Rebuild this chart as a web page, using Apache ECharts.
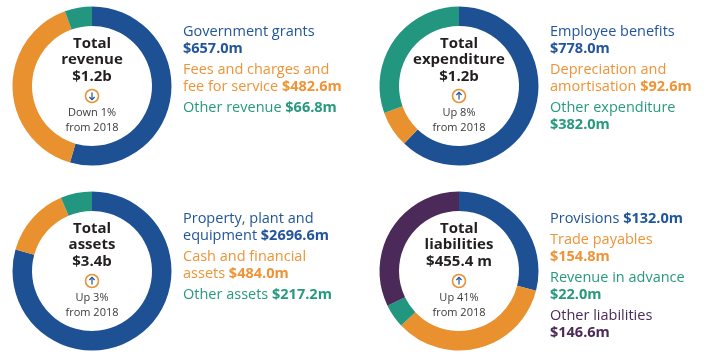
<!DOCTYPE html>
<html><head><meta charset="utf-8">
<script src="https://cdn.jsdelivr.net/npm/echarts@6/dist/echarts.min.js"></script>
<style>html,body{margin:0;padding:0;background:#fff}#c{width:719px;height:358px}</style>
</head><body><div id="c"></div>
<script>
// ---- data ----
const revenueNames = ['Government grants', 'Fees and charges and\nfee for service', 'Other revenue'];
const revenueValues = [657.0, 482.6, 66.8];
const revenueBreak = [true, false, false];

const expenditureNames = ['Employee benefits', 'Depreciation and\namortisation', 'Other expenditure'];
const expenditureValues = [778.0, 92.6, 382.0];
const expenditureBreak = [true, false, true];

const assetsNames = ['Property, plant and\nequipment', 'Cash and financial\nassets', 'Other assets'];
const assetsValues = [2696.6, 484.0, 217.2];
const assetsBreak = [false, false, false];

const liabilitiesNames = ['Provisions', 'Trade payables', 'Revenue in advance', 'Other liabilities'];
const liabilitiesValues = [132.0, 154.8, 22.0, 146.6];
const liabilitiesBreak = [false, true, true, true];

const revenueCenter = ['Total', 'revenue', '$1.2b'];
const expenditureCenter = ['Total', 'expenditure', '$1.2b'];
const assetsCenter = ['Total', 'assets', '$3.4b'];
const liabilitiesCenter = ['Total', 'liabilities', '$455.4 m'];

const revenueChange = ['Down 1%', 'from 2018'];
const expenditureChange = ['Up 8%', 'from 2018'];
const assetsChange = ['Up 3%', 'from 2018'];
const liabilitiesChange = ['Up 41%', 'from 2018'];
const changeDirection = ['down', 'up', 'up', 'up'];

// ---- styles ----
const ringColors = ['#1D5193', '#E8912E', '#23967F', '#4B2A59'];
const textColors = ['#22559C', '#EE9436', '#27997F', '#4B2A59'];
const FONT = '"Open Sans", sans-serif';

const panels = [
  {names: revenueNames, values: revenueValues, brk: revenueBreak, center: revenueCenter, change: revenueChange, cx: 92, cy: 86, lx: 183, ly: 23.5},
  {names: expenditureNames, values: expenditureValues, brk: expenditureBreak, center: expenditureCenter, change: expenditureChange, cx: 459, cy: 86, lx: 550, ly: 23.5},
  {names: assetsNames, values: assetsValues, brk: assetsBreak, center: assetsCenter, change: assetsChange, cx: 92, cy: 271, lx: 183, ly: 210.5},
  {names: liabilitiesNames, values: liabilitiesValues, brk: liabilitiesBreak, center: liabilitiesCenter, change: liabilitiesChange, cx: 459, cy: 271, lx: 550, ly: 210.5}
];

const series = [];
const graphic = [];
const LH = 17, GAP = 4;

panels.forEach((p, pi) => {
  series.push({
    type: 'pie', center: [p.cx, p.cy], radius: [60, 79.5], startAngle: 90, clockwise: true,
    silent: true, label: {show: false}, labelLine: {show: false}, emphasis: {disabled: true},
    itemStyle: {borderWidth: 0},
    data: p.values.map((v, i) => ({value: v, name: p.names[i], itemStyle: {color: ringColors[i]}}))
  });
  // center text
  graphic.push({
    type: 'text', z: 10,
    style: {
      text: p.center.join('\n'), x: p.cx, y: p.cy - 51, align: 'center', verticalAlign: 'top',
      font: 'bold 15px ' + FONT, lineHeight: 16.5, fill: '#231F20'
    }
  });
  // icon
  graphic.push({
    type: 'circle', shape: {cx: p.cx, cy: p.cy + 10, r: 6.5},
    style: {fill: '#fff', stroke: '#E8912E', lineWidth: 1.6}, z: 10
  });
  const d = changeDirection[pi] === 'down' ? 1 : -1;
  graphic.push({
    type: 'polyline', shape: {points: [[p.cx, p.cy + 10 - 3.5 * d], [p.cx, p.cy + 10 + 3.5 * d]]},
    style: {stroke: '#1D5193', lineWidth: 1.2}, z: 11
  });
  graphic.push({
    type: 'polyline', shape: {points: [[p.cx - 2.6, p.cy + 10 + 1 * d], [p.cx, p.cy + 10 + 3.6 * d], [p.cx + 2.6, p.cy + 10 + 1 * d]]},
    style: {stroke: '#1D5193', lineWidth: 1.2, fill: null}, z: 11
  });
  graphic.push({
    type: 'text', z: 10,
    style: {
      text: p.change.join('\n'), x: p.cx, y: p.cy + 20, align: 'center', verticalAlign: 'top',
      font: '11px ' + FONT, lineHeight: 14.5, fill: '#3A3A3A'
    }
  });
  // legend items
  let y = p.ly;
  p.names.forEach((n, i) => {
    const valStr = '$' + p.values[i].toFixed(1) + 'm';
    const txt = n.split('\n').map(s => '{r|' + s + '}').join('\n') + (p.brk[i] ? '\n' : '{r| }') + '{b|' + valStr + '}';
    const lines = n.split('\n').length + (p.brk[i] ? 1 : 0);
    graphic.push({
      type: 'text', z: 10,
      style: {
        text: txt, x: p.lx, y: y, align: 'left', verticalAlign: 'top',
        rich: {
          r: {font: '14.5px ' + FONT, fill: textColors[i], lineHeight: LH},
          b: {font: 'bold 14.5px ' + FONT, fill: textColors[i], lineHeight: LH}
        }
      }
    });
    y += lines * LH + GAP;
  });
});

const chart = echarts.init(document.getElementById('c'), null, {renderer: 'canvas'});
chart.setOption({animation: false, backgroundColor: '#fff', series, graphic});
</script></body></html>
